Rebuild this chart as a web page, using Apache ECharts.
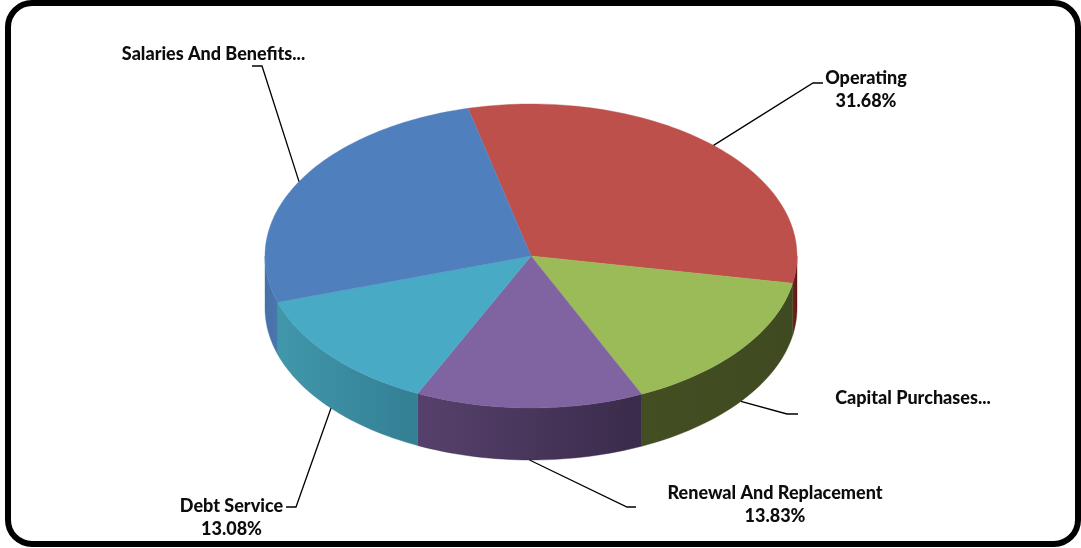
<!DOCTYPE html>
<html>
<head>
<meta charset="utf-8">
<style>html,body{margin:0;padding:0;background:#fff}#c{width:1081px;height:548px}</style>
<script src="https://cdn.jsdelivr.net/npm/echarts@6/dist/echarts.min.js"></script>
</head>
<body>
<div id="c"></div>
<script>
// Data
const categories = ['Operating', 'Capital Purchases', 'Renewal And Replacement', 'Debt Service', 'Salaries And Benefits'];
const shares = [31.68, 15.30, 13.83, 13.08, 26.11];
const labelTexts = [
  ['Operating', '31.68%'],
  ['Capital Purchases...'],
  ['Renewal And Replacement', '13.83%'],
  ['Debt Service', '13.08%'],
  ['Salaries And Benefits...']
];

// Styles
const topColors = ['#BE504C', '#9BBB59', '#8064A2', '#48AAC4', '#4F80BD'];
const wallStops = [
  ['#7a2421', '#5e1714'],
  ['#434E23', '#3F4A20'],
  ['#56416C', '#3A2B4A'],
  ['#4197AB', '#337F94'],
  ['#4670A8', '#4A76AE']
];

// Layout
const pie = { cx: 531, cy: 256, rx: 266, ry: 152, depth: 52, start: -13.7 };
const leaderBends = [
  [[813, 83], [823, 83]],
  [[787, 414], [798, 414]],
  [[627, 507], [636, 507]],
  [[296, 507], [286, 507]],
  [[262, 66], [252, 66]]
];
const leaderOnWall = [false, true, true, true, false];
const labelPos = [
  [866, 78], [913, 398], [775, 493], [231.5, 506], [213.5, 54]
];
const lineStep = 23;

const total = shares.reduce((a, b) => a + b, 0);
function rimPoint(deg, drop) {
  const t = deg * Math.PI / 180;
  return [pie.cx + pie.rx * Math.sin(t), pie.cy - pie.ry * Math.cos(t) + drop];
}
function arcPoints(a, b, drop) {
  const n = Math.max(2, Math.ceil(Math.abs(b - a) / 1.5));
  const out = [];
  for (let i = 0; i <= n; i++) out.push(rimPoint(a + (b - a) * i / n, drop));
  return out;
}
function startOf(idx) {
  let s = 0;
  for (let i = 0; i < idx; i++) s += shares[i];
  return pie.start + s / total * 360;
}

function renderSlice(params, api) {
  const i = params.dataIndex;
  const a = startOf(i);
  const b = a + api.value(0) / total * 360;
  const mid = (a + b) / 2;
  const children = [];

  // wall: only the part facing the viewer
  const wa = Math.max(a, 90), wb = Math.min(b, 270);
  if (wb > wa) {
    const pts = arcPoints(wa, wb, 0).concat(arcPoints(wb, wa, pie.depth));
    const col = {
      type: 'linear', x: 0, y: 0, x2: 1, y2: 0,
      colorStops: [{ offset: 0, color: wallStops[i][0] }, { offset: 1, color: wallStops[i][1] }]
    };
    children.push({
      type: 'polygon', shape: { points: pts },
      style: { fill: col, stroke: wallStops[i][1], lineWidth: 0.4 }
    });
  }
  // top face
  const topPts = [[pie.cx, pie.cy]].concat(arcPoints(a, b, 0));
  children.push({
    type: 'polygon', shape: { points: topPts },
    style: { fill: topColors[i], stroke: topColors[i], lineWidth: 0.4 }
  });
  // leader line from the slice's mid angle on the rim
  const anchor = rimPoint(mid, leaderOnWall[i] ? pie.depth : 0);
  children.push({
    type: 'polyline', shape: { points: [anchor].concat(leaderBends[i]) },
    style: { fill: 'none', stroke: '#000', lineWidth: 1.3 }
  });
  // label
  labelTexts[i].forEach((line, k) => {
    children.push({
      type: 'text',
      style: {
        text: line, x: labelPos[i][0], y: labelPos[i][1] + k * lineStep,
        align: 'center', verticalAlign: 'middle',
        font: '900 18px Lato, "Open Sans", sans-serif', fill: '#0d0d0d'
      }
    });
  });
  return { type: 'group', children };
}

const chart = echarts.init(document.getElementById('c'), null, { renderer: 'canvas' });
chart.setOption({
  backgroundColor: '#fff',
  animation: false,
  graphic: [{
    type: 'rect', z: 10, silent: true,
    shape: { x: 8, y: 3, width: 1070, height: 541, r: 24 },
    style: { fill: 'none', stroke: '#000', lineWidth: 6 }
  }],
  series: [{
    type: 'custom',
    coordinateSystem: 'none',
    silent: true,
    clip: false,
    renderItem: renderSlice,
    data: categories.map((name, i) => ({ name, value: [shares[i]] }))
  }]
});
</script>
</body>
</html>
